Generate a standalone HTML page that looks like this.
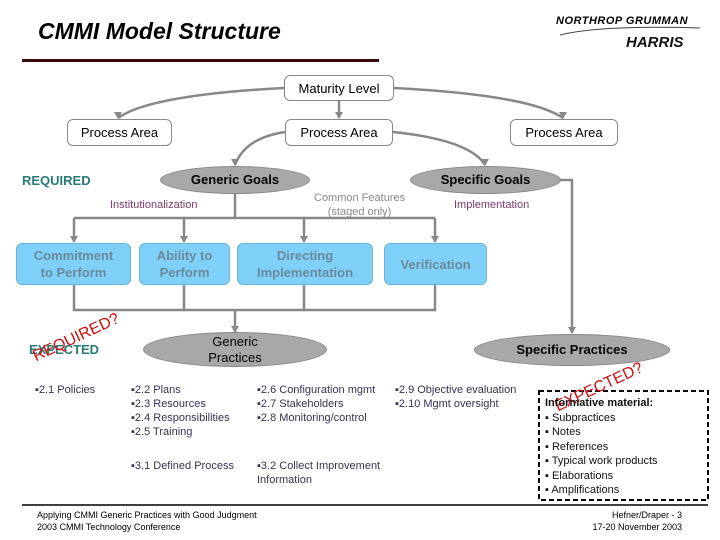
<!DOCTYPE html>
<html><head><meta charset="utf-8"><style>
body{margin:0;width:720px;height:540px;background:#fff;position:relative;overflow:hidden;font-family:"Liberation Sans",Arial,sans-serif}
.a{position:absolute;white-space:nowrap}
.box{position:absolute;border:1px solid #888;border-radius:6px;background:#fff;font-size:13px;text-align:center;box-sizing:border-box;display:flex;align-items:center;justify-content:center}
.blue{position:absolute;background:#7fd0f8;border:1px solid #69b6dc;border-radius:6px;color:#6a8a9a;font-weight:bold;font-size:13px;text-align:center;box-sizing:border-box;display:flex;align-items:center;justify-content:center;line-height:17px}
.el{position:absolute;background:#a8a8a8;border:1px solid #888;border-radius:50%;box-sizing:border-box;display:flex;align-items:center;justify-content:center;text-align:center;font-weight:bold;font-size:13px;line-height:16px}
.t{font-size:11px;color:#333355;line-height:14px}
</style></head><body>
<div class="a" style="left:38px;top:18px;font-size:23px;font-weight:bold;font-style:italic">CMMI Model Structure</div>
<div class="a" style="left:22px;top:59px;width:357px;height:3px;background:#3a0a0a"></div>
<div class="a" style="left:556px;top:15px;font-size:11px;font-weight:bold;font-style:italic;letter-spacing:0.5px">NORTHROP GRUMMAN</div>
<div class="a" style="left:626px;top:34px;font-size:15px;font-weight:bold;font-style:italic;color:#111">HARRIS</div>
<svg class="a" style="left:0;top:0" width="720" height="540">
<path d="M560,35 Q600,25 700,28" stroke="#444" fill="none"/>
<g stroke="#888" stroke-width="2.5" fill="none">
<path d="M284,88 Q150,95 118,118"/>
<path d="M394,88 Q530,95 563,118"/>
<path d="M339,101 L339,118"/>
<path d="M285,132 Q245,138 235,165"/>
<path d="M393,132 Q470,140 485,165"/>
<path d="M235,194 L235,218 M74,218 L435,218"/>
<path d="M74,218 L74,242 M184,218 L184,242 M304,218 L304,242 M435,218 L435,242"/>
<path d="M74,285 L74,310 L435,310 L435,285 M184,285 L184,310 M304,285 L304,310"/>
<path d="M235,310 L235,332"/>
<path d="M560,180 L572,180 L572,333"/>
</g>
<g fill="#888">
<path d="M114,112 L122,112 L118,119z"/><path d="M559,112 L567,112 L563,119z"/><path d="M335,112 L343,112 L339,119z"/>
<path d="M231,159 L239,159 L235,166z"/><path d="M481,159 L489,159 L485,166z"/>
<path d="M70,236 L78,236 L74,243z"/><path d="M180,236 L188,236 L184,243z"/><path d="M300,236 L308,236 L304,243z"/><path d="M431,236 L439,236 L435,243z"/>
<path d="M231,326 L239,326 L235,333z"/><path d="M568,327 L576,327 L572,334z"/>
</g>
<rect x="539" y="391" width="169" height="109" fill="none" stroke="#000" stroke-width="2" stroke-dasharray="5,3"/>
<line x1="22" y1="505" x2="708" y2="505" stroke="#000" stroke-width="1.5"/>
</svg>
<div class="box" style="left:284px;top:75px;width:110px;height:26px">Maturity Level</div>
<div class="box" style="left:67px;top:119px;width:105px;height:27px">Process Area</div>
<div class="box" style="left:285px;top:119px;width:108px;height:27px">Process Area</div>
<div class="box" style="left:510px;top:119px;width:108px;height:27px">Process Area</div>
<div class="a" style="left:22px;top:173px;font-size:13px;font-weight:bold;color:#2a7a7a">REQUIRED</div>
<div class="el" style="left:160px;top:166px;width:150px;height:28px">Generic Goals</div>
<div class="el" style="left:410px;top:166px;width:151px;height:28px">Specific Goals</div>
<div class="a" style="left:110px;top:199px;font-size:11px;color:#7a3a6a">Institutionalization</div>
<div class="a" style="left:314px;top:191px;font-size:11px;color:#888;text-align:center;line-height:14px">Common Features<br>(staged only)</div>
<div class="a" style="left:454px;top:199px;font-size:11px;color:#7a3a6a">Implementation</div>
<div class="blue" style="left:16px;top:243px;width:115px;height:42px">Commitment<br>to Perform</div>
<div class="blue" style="left:139px;top:243px;width:91px;height:42px">Ability to<br>Perform</div>
<div class="blue" style="left:237px;top:243px;width:136px;height:42px">Directing<br>Implementation</div>
<div class="blue" style="left:384px;top:243px;width:103px;height:42px">Verification</div>
<div class="el" style="left:143px;top:332px;width:184px;height:35px;font-weight:normal">Generic<br>Practices</div>
<div class="el" style="left:474px;top:334px;width:196px;height:32px">Specific Practices</div>
<div class="a" style="left:29px;top:342px;font-size:13px;font-weight:bold;color:#2a7a7a">EXPECTED</div>
<div class="a" style="left:38px;top:348px;font-size:16px;color:#d01010;transform:rotate(-25deg);transform-origin:left bottom">REQUIRED?</div>
<div class="a" style="left:560px;top:398px;font-size:16px;color:#d01010;transform:rotate(-25deg);transform-origin:left bottom">EXPECTED?</div>
<div class="a t" style="left:35px;top:383px">▪2.1 Policies</div>
<div class="a t" style="left:131px;top:383px">▪2.2 Plans<br>▪2.3 Resources<br>▪2.4 Responsibilities<br>▪2.5 Training</div>
<div class="a t" style="left:257px;top:383px">▪2.6 Configuration mgmt<br>▪2.7 Stakeholders<br>▪2.8 Monitoring/control</div>
<div class="a t" style="left:395px;top:383px">▪2.9 Objective evaluation<br>▪2.10 Mgmt oversight</div>
<div class="a t" style="left:131px;top:459px">▪3.1 Defined Process</div>
<div class="a t" style="left:257px;top:459px">▪3.2 Collect Improvement<br>Information</div>
<div class="a" style="left:545px;top:396px;font-size:11px;line-height:14.5px;color:#111"><b>Informative material:</b><br>▪ Subpractices<br>▪ Notes<br>▪ References<br>▪ Typical work products<br>▪ Elaborations<br>▪ Amplifications</div>
<div class="a" style="left:37px;top:509px;font-size:9px;line-height:12px">Applying CMMI Generic Practices with Good Judgment<br>2003 CMMI Technology Conference</div>
<div class="a" style="right:38px;top:509px;font-size:9px;line-height:12px;text-align:right">Hefner/Draper - 3<br>17-20 November 2003</div>
</body></html>
